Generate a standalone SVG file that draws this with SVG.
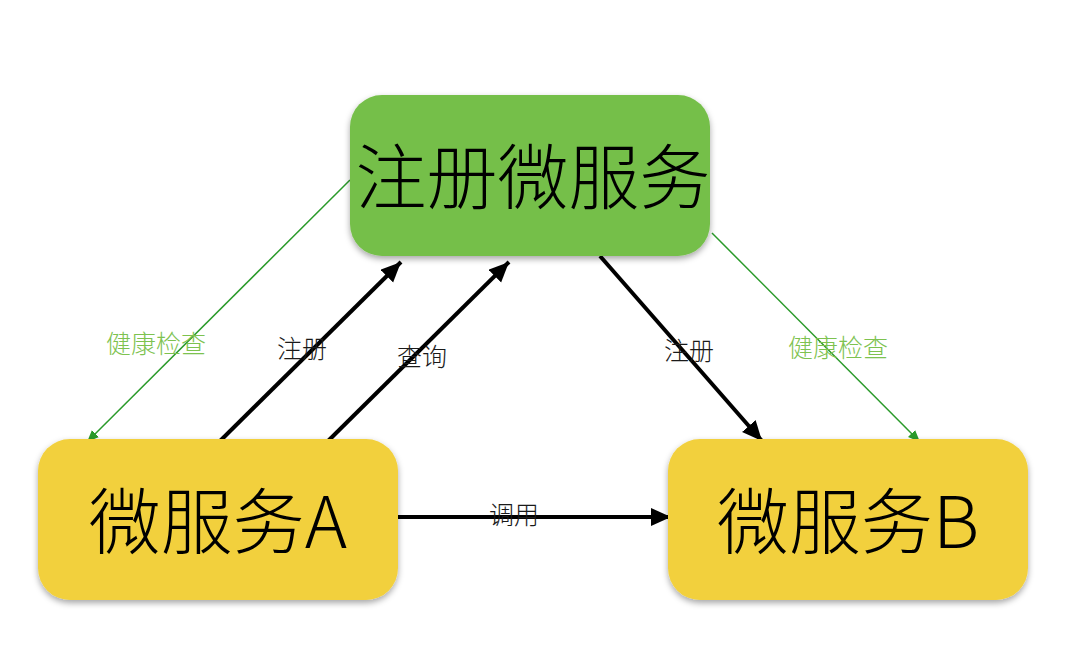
<svg xmlns="http://www.w3.org/2000/svg" width="1066" height="672" viewBox="0 0 1066 672">
<style>
text{font-family:"Noto Sans CJK SC","Noto Sans",sans-serif;font-weight:300;}
.big{font-size:72px;fill:#000;text-anchor:middle;}
.lbl{font-size:25px;fill:#1a1a1a;text-anchor:middle;}
.hc{font-size:25px;fill:#7dc24f;text-anchor:middle;}
.blk{stroke:#000;stroke-width:4;fill:none;}
.grn{stroke:#2a9a2a;stroke-width:1.5;fill:none;}
</style>
<defs>
<filter id="sh" x="-10%" y="-10%" width="120%" height="130%">
<feDropShadow dx="0" dy="3" stdDeviation="3" flood-color="#000" flood-opacity="0.35"/>
</filter>
<marker id="ab" markerUnits="userSpaceOnUse" markerWidth="24" markerHeight="20" refX="20" refY="9" orient="auto">
<path d="M0,0 L20,9 L0,18 Z" fill="#000"/>
</marker>
<marker id="ag" markerUnits="userSpaceOnUse" markerWidth="16" markerHeight="12" refX="12" refY="5" orient="auto">
<path d="M0,0 L12,5 L0,10 Z" fill="#2a9a2a"/>
</marker>
</defs>
<rect width="1066" height="672" fill="#fff"/>
<g id="connectors">
<line class="grn" x1="350" y1="180" x2="87" y2="442" marker-end="url(#ag)"/>
<line class="grn" x1="712" y1="233" x2="920" y2="442" marker-end="url(#ag)"/>
<line class="blk" x1="217" y1="444" x2="401" y2="262" marker-end="url(#ab)"/>
<line class="blk" x1="325" y1="444" x2="509" y2="262" marker-end="url(#ab)"/>
<line class="blk" x1="600" y1="256" x2="762" y2="441" marker-end="url(#ab)"/>
<line class="blk" x1="398" y1="517" x2="671" y2="517" marker-end="url(#ab)"/>
<text class="hc" x="156" y="353">健康检查</text>
<text class="lbl" x="302" y="358">注册</text>
<text class="lbl" x="422" y="366">查询</text>
<text class="lbl" x="689" y="360">注册</text>
<text class="hc" x="838" y="357">健康检查</text>
<text class="lbl" x="514" y="524">调用</text>
</g>
<g id="registry">
<rect x="350" y="95" width="360" height="161" rx="32" fill="#75bf4a" filter="url(#sh)"/>
<text class="big" x="533" y="203" style="font-size:71px">注册微服务</text>
</g>
<g id="serviceA">
<rect x="38" y="439" width="360" height="161" rx="32" fill="#f2d03d" filter="url(#sh)"/>
<text class="big" x="218" y="548">微服务A</text>
</g>
<g id="serviceB">
<rect x="668" y="439" width="360" height="161" rx="32" fill="#f2d03d" filter="url(#sh)"/>
<text class="big" x="848" y="548">微服务B</text>
</g>
</svg>
